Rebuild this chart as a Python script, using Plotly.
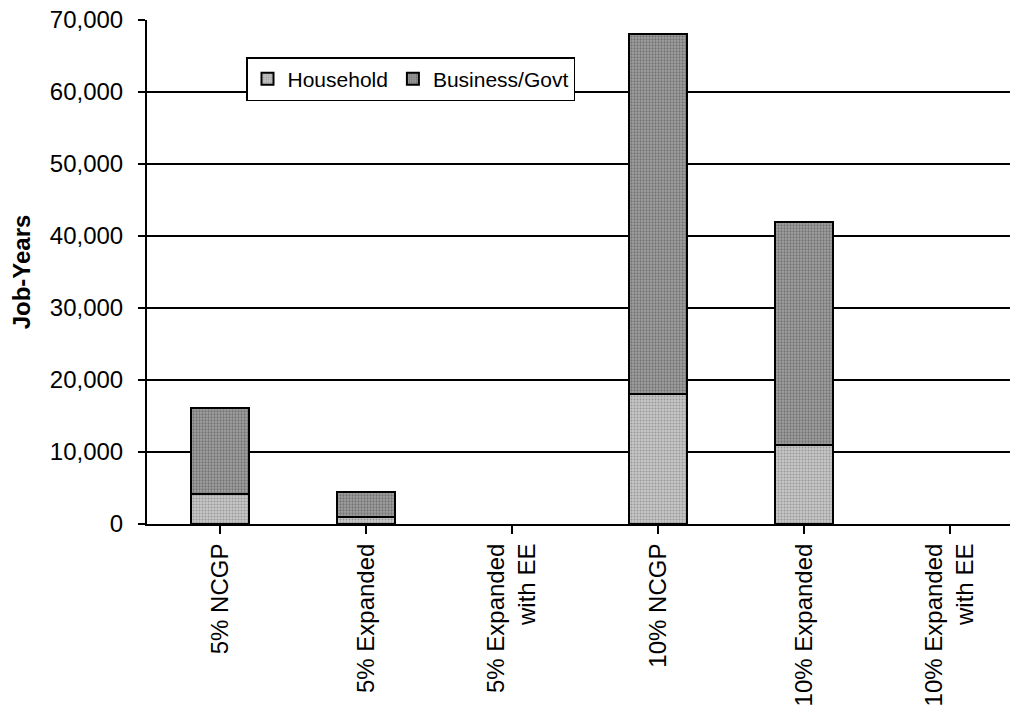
import plotly.graph_objects as go

# Scenario categories and job-year results
categories = [
    "5% NCGP",
    "5% Expanded",
    "5% Expanded<br>with EE",
    "10% NCGP",
    "10% Expanded",
    "10% Expanded<br>with EE",
]
household = [4100, 1000, None, 18000, 11000, None]
business_govt = [12000, 3400, None, 50000, 31000, None]
y_ticks = [0, 10000, 20000, 30000, 40000, 50000, 60000, 70000]

FONT = "Liberation Sans, Arial, sans-serif"

x_idx = list(range(len(categories)))

fig = go.Figure()
fig.add_trace(go.Bar(
    name="Household",
    x=x_idx,
    y=household,
    width=0.4,
    marker=dict(
        color="#c0c0c0",
        line=dict(color="black", width=2),
        pattern=dict(shape=".", fgcolor="#6a6a6a", bgcolor="#c6c6c6",
                     size=3, solidity=0.35),
    ),
))
fig.add_trace(go.Bar(
    name="Business/Govt",
    x=x_idx,
    y=business_govt,
    width=0.4,
    marker=dict(
        color="#8a8a8a",
        line=dict(color="black", width=2),
        pattern=dict(shape=".", fgcolor="#444444", bgcolor="#a2a2a2",
                     size=3, solidity=0.45),
    ),
))

# Plot area spans 146 px per category; the right edge is clipped at the page edge
plot_w = 1010 - 147
x_max = -0.5 + plot_w / 146.0

fig.update_layout(
    width=1010,
    height=706,
    barmode="stack",
    paper_bgcolor="white",
    plot_bgcolor="white",
    margin=dict(l=147, r=0, t=20, b=182, pad=0),
    font=dict(family=FONT, size=23, color="black"),
    showlegend=True,
    legend=dict(
        orientation="h",
        x=(246 - 147) / plot_w,
        y=(524 - 57) / 504,
        xanchor="left",
        yanchor="top",
        bgcolor="white",
        bordercolor="black",
        borderwidth=1.5,
        font=dict(family=FONT, size=21, color="black"),
        itemwidth=30,
        traceorder="normal",
    ),
)

fig.update_xaxes(
    range=[-0.5, x_max],
    automargin=False,
    tickmode="array",
    tickvals=x_idx,
    ticktext=categories,
    tickangle=-90,
    tickson="boundaries",
    ticks="outside",
    ticklen=8,
    tickwidth=1.5,
    tickcolor="black",
    showgrid=False,
    showline=True,
    linecolor="black",
    linewidth=2,
    tickfont=dict(family=FONT, size=24, color="black"),
    zeroline=False,
)

fig.update_yaxes(
    range=[0, 70000],
    automargin=False,
    tickmode="array",
    tickvals=y_ticks,
    ticktext=[f"{v:,}" for v in y_ticks],
    ticks="outside",
    ticklen=7,
    tickwidth=1.5,
    tickcolor="black",
    ticklabelstandoff=10,
    showgrid=True,
    gridcolor="black",
    gridwidth=1.5,
    showline=True,
    linecolor="black",
    linewidth=2,
    zeroline=False,
    tickfont=dict(family=FONT, size=24, color="black"),
    title=dict(text="<b>Job-Years</b>", standoff=12,
               font=dict(family=FONT, size=24, color="black")),
)

fig.write_html("out.html")
